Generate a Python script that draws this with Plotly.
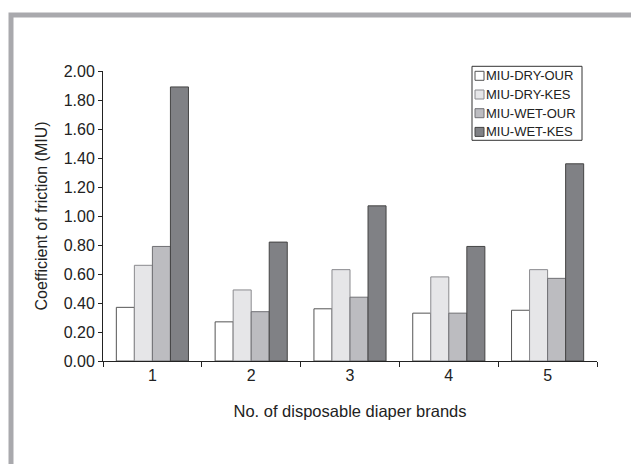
import plotly.graph_objects as go

brands = ["1", "2", "3", "4", "5"]
series_names = ["MIU-DRY-OUR", "MIU-DRY-KES", "MIU-WET-OUR", "MIU-WET-KES"]
dry_our = [0.37, 0.27, 0.36, 0.33, 0.35]
dry_kes = [0.66, 0.49, 0.63, 0.58, 0.63]
wet_our = [0.79, 0.34, 0.44, 0.33, 0.57]
wet_kes = [1.89, 0.82, 1.07, 0.79, 1.36]
y_ticks = [0.0, 0.2, 0.4, 0.6, 0.8, 1.0, 1.2, 1.4, 1.6, 1.8, 2.0]

values = [dry_our, dry_kes, wet_our, wet_kes]
fills = ["#ffffff", "#e6e6e8", "#bcbcc0", "#808185"]
edges = ["#555555", "#8a8a8e", "#707074", "#444444"]

FONT = "Liberation Sans, Arial, sans-serif"

# page has an 8px body margin: work in page coordinates, convert to figure
OFF = 8
W, H = 639 - OFF, 464 - OFF
AX_L, AX_R, AX_T, AX_B = 103, 597, 70.7, 360.7   # page coords of plot area
L = AX_L - OFF
R = W - (AX_R - OFF)
T = AX_T - OFF
B = H - (AX_B - OFF)
pw, ph = AX_R - AX_L, AX_B - AX_T

def px(x):
    return (x - AX_L) / pw

def py(y):
    return (AX_B - y) / ph

fig = go.Figure()
for name, vals, fc, ec in zip(series_names, values, fills, edges):
    fig.add_trace(go.Bar(x=brands, y=vals, name=name,
                         marker=dict(color=fc, line=dict(color=ec, width=1)),
                         showlegend=False))

# outer gray frame
fig.add_shape(type="rect", xref="paper", yref="paper",
              x0=px(11), x1=px(700), y0=py(520), y1=py(14.8),
              line=dict(color="#a9a9ad", width=5), layer="below")

# legend box
lx0, lx1, ly0, ly1 = 472, 582, 66, 140
fig.add_shape(type="rect", xref="paper", yref="paper",
              x0=px(lx0), x1=px(lx1), y0=py(ly1), y1=py(ly0),
              line=dict(color="#333333", width=1), fillcolor="white")
for i, (name, fc, ec) in enumerate(zip(series_names, fills, edges)):
    cy = 75.5 + i * 18.7
    fig.add_shape(type="rect", xref="paper", yref="paper",
                  x0=px(475), x1=px(484), y0=py(cy + 4.5), y1=py(cy - 4.5),
                  line=dict(color=ec, width=1), fillcolor=fc)
    fig.add_annotation(xref="paper", yref="paper", x=px(484), y=py(cy),
                       text=name, showarrow=False, xanchor="left", yanchor="middle",
                       font=dict(family=FONT, size=13, color="#222222"))

fig.update_layout(
    width=W, height=H,
    margin=dict(l=L, r=R, t=T, b=B, autoexpand=False),
    paper_bgcolor="white", plot_bgcolor="white",
    barmode="group", bargap=0.27, bargroupgap=0,
    font=dict(family=FONT, size=16, color="#222222"),
)
fig.update_xaxes(type="category", showline=True, linecolor="#222222", linewidth=1,
                 ticks="outside", tickson="boundaries", ticklen=5, tickcolor="#222222",
                 showgrid=False, zeroline=False,
                 title=dict(text="No. of disposable diaper brands", standoff=22,
                            font=dict(size=16.5)),
                 tickfont=dict(size=16))
fig.update_yaxes(range=[0, 2.0], tickvals=y_ticks, tickformat=".2f",
                 showline=True, linecolor="#222222", linewidth=1,
                 ticks="outside", ticklen=4, tickcolor="#222222",
                 showgrid=False, zeroline=False,
                 title=dict(text="Coefficient of friction (MIU)", standoff=12,
                            font=dict(size=16)),
                 tickfont=dict(size=16))

fig.write_html("out.html")
